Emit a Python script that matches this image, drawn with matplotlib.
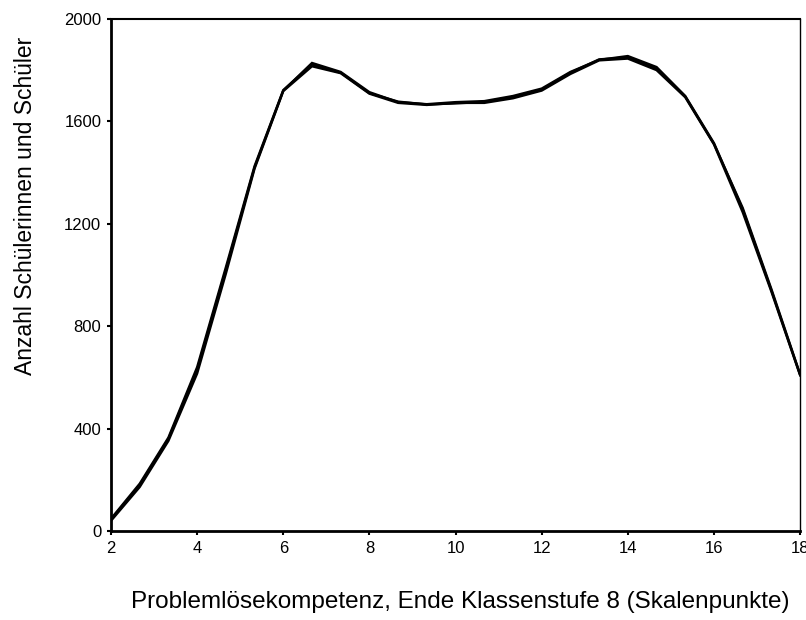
import numpy as np
import matplotlib.pyplot as plt

plt.rcParams['font.family'] = ['Liberation Sans', 'DejaVu Sans']

# Skalenpunkte (Schritt 2/3) und Anzahl Schüler, mehrere fast gleiche Kurven
punkte = [2, 2.667, 3.333, 4, 4.667, 5.333, 6, 6.667, 7.333, 8, 8.667, 9.333,
          10, 10.667, 11.333, 12, 12.667, 13.333, 14, 14.667, 15.333, 16,
          16.667, 17.333, 18]
kurve_a = [45, 180, 360, 630, 1020, 1420, 1720, 1828, 1793, 1714, 1675, 1667,
           1675, 1679, 1699, 1728, 1793, 1840, 1855, 1812, 1699, 1515, 1256, 940, 610]
kurve_b = [40, 172, 352, 615, 1005, 1415, 1718, 1815, 1788, 1708, 1672, 1664,
           1672, 1672, 1690, 1720, 1785, 1838, 1845, 1800, 1694, 1510, 1245, 935, 608]
kurve_c = [48, 185, 365, 640, 1030, 1425, 1722, 1822, 1790, 1710, 1677, 1666,
           1670, 1676, 1695, 1724, 1790, 1842, 1850, 1806, 1697, 1512, 1262, 945, 612]

fig = plt.figure(figsize=(8.06, 6.2), dpi=100, facecolor='white')
ax = fig.add_axes([0.1377, 0.1435, 0.855, 0.826])

for k in (kurve_a, kurve_b, kurve_c):
    ax.plot(punkte, k, color='black', linewidth=1.7, solid_joinstyle='miter')

ax.set_xlim(2, 18)
ax.set_ylim(0, 2000)
ax.set_xticks(range(2, 19, 2))
ax.set_yticks(range(0, 2001, 400))
ax.tick_params(direction='out', length=3, width=1.5, labelsize=12, pad=4)

ax.spines['left'].set_linewidth(2)
ax.spines['bottom'].set_linewidth(2)
ax.spines['top'].set_linewidth(1.5)
ax.spines['right'].set_linewidth(1)

ax.set_xlabel('Problemlösekompetenz, Ende Klassenstufe 8 (Skalenpunkte)', fontsize=17.5)
ax.xaxis.set_label_coords(0.507, -0.117)
ax.set_ylabel('Anzahl Schülerinnen und Schüler', fontsize=16.5)
ax.yaxis.set_label_coords(-0.108, 0.635)

fig.savefig('out.png', dpi=100)
